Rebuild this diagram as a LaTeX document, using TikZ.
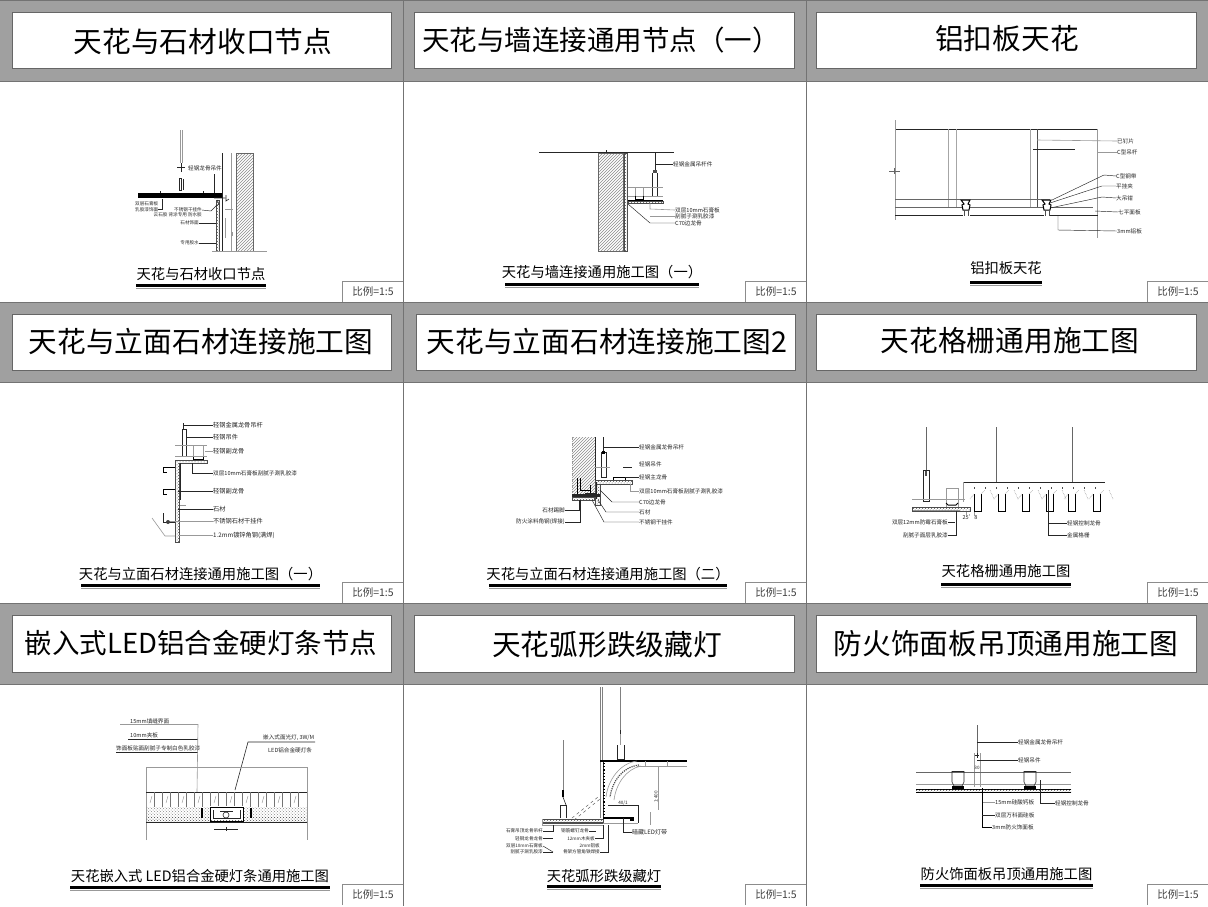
\documentclass[tikz,border=0pt]{standalone}
\usepackage{fontspec}
\setmainfont{Noto Sans CJK SC}
\usetikzlibrary{patterns}
\definecolor{bandgray}{HTML}{A0A0A0}
\tikzset{
  titlebox/.style={draw=black!60,fill=white,line width=0.7pt},
  titletext/.style={inner sep=0pt},
  capttext/.style={font=\fontsize{14.3}{15}\selectfont,inner sep=0pt},
  scaletext/.style={font=\fontsize{10.5}{12}\selectfont,text=black!75,inner sep=0pt},
  lbl/.style={font=\fontsize{5.6}{6}\selectfont,text=black!85,inner sep=0pt},
  lblsmall/.style={font=\fontsize{4.6}{5}\selectfont,text=black!85,inner sep=0pt},
  lblbig/.style={font=\fontsize{6.2}{7}\selectfont,text=black!85,inner sep=0pt},
  lead/.style={black!85,line width=0.45pt},
  lite/.style={black!40,line width=0.6pt},
  dark/.style={black!85,line width=0.6pt},
  wallhatch/.style={draw=black!60,line width=0.4pt,pattern=north east lines,pattern color=black!45},
  boarddot/.style={draw=black!70,line width=0.4pt,pattern=crosshatch dots,pattern color=black!65},
}
\begin{document}
\begin{tikzpicture}[x=1pt,y=-1pt]
  \useasboundingbox (0,0) rectangle (1208,906);
  \fill[white] (0,0) rectangle (1208,906);

  % Header bands and cell lines
  \foreach \ya/\yb in {0/81,302/382,603/684}
    \fill[bandgray] (0,\ya) rectangle (1208,\yb);
  \foreach \ya in {0,81,302,382,603,684}
    \draw[black!55,line width=0.5pt] (0,\ya) -- (1208,\ya);
  \draw[black!55,line width=0.5pt] (403,0) -- (403,906);
  \draw[black!55,line width=0.5pt] (806,0) -- (806,906);

  % Title boxes
  \foreach \n/\xa/\xb/\ya/\yb/\tx/\ty/\fs/\ttl in {
    a/12/391/12/68/203/42/28.7/天花与石材收口节点,
    b/414/794/12/68/601/40/27.5/天花与墙连接通用节点（一）,
    c/816/1196/12/68/1007/39/28.7/铝扣板天花,
    d/12/391/314/370/201/342/28.7/天花与立面石材连接施工图,
    e/416/795/314/370/607/342/28.7/天花与立面石材连接施工图2,
    f/816/1196/314/370/1010/341/28.7/天花格栅通用施工图,
    g/12/391/615/672/201/643/27.5/嵌入式LED铝合金硬灯条节点,
    h/414/794/615/672/607/645/28.7/天花弧形跌级藏灯,
    i/816/1196/615/672/1006/644/28.7/防火饰面板吊顶通用施工图}{
    \draw[titlebox] (\xa,\ya) rectangle (\xb,\yb);
    \node[titletext,font=\fontsize{\fs}{30}\selectfont] (title\n) at (\tx,\ty) {\ttl};
  }

  % Captions with their double rule
  \foreach \n/\xa/\xb/\ty/\uy/\ttl in {
    a/136/266/274/285/天花与石材收口节点,
    b/505/699/272/284/天花与墙连接通用施工图（一）,
    c/970/1042/268/282/铝扣板天花,
    d/81/320/574/585/天花与立面石材连接通用施工图（一）,
    e/489/727/574/585/天花与立面石材连接通用施工图（二）,
    f/941/1071/571/584/天花格栅通用施工图,
    g/70/330/876/887/天花嵌入式 LED铝合金硬灯条通用施工图,
    h/547/661/876/886/天花弧形跌级藏灯,
    i/920/1093/874/885/防火饰面板吊顶通用施工图}{
    \node[capttext] (capt\n) at ({(\xa+\xb)/2},\ty) {\ttl};
    \fill[black] (\xa,\uy-1.5) rectangle (\xb,\uy+1.5);
    \draw[black!40,line width=0.5pt] (\xa,\uy+3.5) -- (\xb,\uy+3.5);
  }

  % Scale tags
  \foreach \n/\xa/\ya in {a/342/281,b/745/281,c/1147/281,d/342/582,e/745/582,f/1147/582,g/342/884,h/745/884,i/1147/884}{
    \draw[black!45,fill=white,line width=0.5pt] (\xa,\ya+21) -- (\xa,\ya) -- (\xa+61,\ya);
    \node[scaletext] (scale\n) at (\xa+31,\ya+11) {比例=1:5};
  }

  % ---- Panel 1
  \draw[lite] (180,130) -- (180,163);
  \draw[lite] (182,130) -- (182,163);
  \draw[dark] (177,167) -- (185,167) (181,163) -- (181,172);
  \draw[dark] (179,178) rectangle (181,190);
  \draw[dark] (183,179) -- (183,190);
  \fill[black] (138,193) rectangle (222,198);
  \foreach \xp in {160,203} \draw[dark] (\xp,191) -- (\xp,193);
  \draw[dark] (214,174) -- (214,193);
  \draw[dark] (222,153) -- (222,251);
  \draw[lite] (231,153) -- (231,251);
  \draw[wallhatch] (236,153) rectangle (253,251);
  \draw[boarddot] (216,200) rectangle (219,251);
  \draw[lite] (212,251) -- (267,251);
  \draw[dark] (214,198) -- (225,198) (226,195) -- (226,201) -- (229,199);
  \draw[lite] (225,209) -- (233,209) (225,238) -- (225,218) (232,232) -- (232,236);
  \draw[dark] (217,200) -- (219,204) -- (216,206);
  \node[lbl,anchor=west] (p1a) at (188,168) {轻钢龙骨吊件};
  \node[lblsmall,anchor=west] (p1b) at (135,204) {双层石膏板};
  \node[lblsmall,anchor=west] (p1c) at (135,209.5) {乳胶漆饰面};
  \node[lblsmall,anchor=east] (p1d) at (202,210) {不锈钢干挂件};
  \node[lblsmall,anchor=east] (p1e) at (202,215) {云石胶 背涂专用 防水胶};
  \node[lblsmall,anchor=east] (p1f) at (199,223) {石材饰面};
  \node[lblsmall,anchor=east] (p1g) at (199,243) {专用胶水};
  \draw[lead] (p1c.east) -- (162,209.5) -- (162,199);
  \draw[lead] (p1d.east) -- (211,211) -- (217,205);
  \draw[lead] (p1f.east) -- (216,223);
  \draw[lead] (p1g.east) -- (216,243);

  % ---- Panel 2
  \draw[dark] (539,152) -- (674,152);
  \draw[wallhatch] (598,153) rectangle (623,251);
  \draw[boarddot] (624,153) rectangle (627,251);
  \draw[dark] (655,153) -- (655,170);
  \fill[black!70] (653,170) rectangle (657,173);
  \draw[dark] (652,173) -- (652,197) (657,173) -- (657,197);
  \draw[lite] (628,187) -- (663,187) (628,196) -- (663,196);
  \draw[lite] (635,187) -- (635,196) (643,187) -- (643,196);
  \draw[black,line width=1pt] (635,196) -- (635,199) -- (643,199) -- (643,196);
  \fill[black] (628,200) rectangle (663,201);
  \draw[boarddot] (628,201) rectangle (663,203.5);
  \node[lbl,anchor=west] (p2a) at (673,164) {轻钢金属吊杆件};
  \node[lbl,anchor=west] (p2b) at (675,210) {双层10mm石膏板};
  \node[lbl,anchor=west] (p2c) at (675,216) {刮腻子涮乳胶漆};
  \node[lbl,anchor=west] (p2d) at (675,223) {C70边龙骨};
  \draw[lead] (p2a.west) -- (655,164);
  \draw[lite] (p2b.west) -- (650,209) -- (650,203);
  \draw[lite] (p2c.west) -- (650,216);
  \draw[lead] (p2d.west) -- (650,223) -- (628,204);
  \draw[dark] (606,153) -- (606,150);

  % ---- Panel 3
  \draw[dark] (895,129) -- (1097,129);
  \draw[lite] (895,120) -- (895,220);
  \draw[lite] (1097,129) -- (1097,238);
  \draw[black!35,line width=0.7pt] (948,129) -- (948,207) (956,129) -- (956,207);
  \draw[black!35,line width=0.7pt] (1030,129) -- (1030,207);
  \draw[black!70,line width=0.7pt] (1037,129) -- (1037,207);
  \draw[black!60,line width=0.5pt] (895,199) -- (1050,199);
  \draw[black!60,line width=0.5pt] (895,207) -- (1093,207);
  \draw[black!85,line width=0.7pt] (895,215) -- (963,215) (970,215) -- (1044,215) (1050,215) -- (1098,215);
  \foreach \xp in {966,1047}{
    \draw[black,fill=white,line width=1pt] (\xp-3,210) -- (\xp-4,205) -- (\xp-2,204) -- (\xp-5,200) -- (\xp+4,200) -- (\xp+2,204) -- (\xp+4,205) -- (\xp+3,210) -- cycle;
    \draw[black!70,line width=0.5pt] (\xp-2,210) -- (\xp-2,216) (\xp+2,210) -- (\xp+2,216);
  }
  \draw[black!85,line width=0.6pt] (1033,149) -- (1075,149);
  \draw[black!60,line width=0.5pt] (889,171) -- (900,171) (894,168) -- (894,174);
  \node[lbl,anchor=west] (p3a) at (1117,141) {已钉片};
  \node[lbl,anchor=west] (p3b) at (1117,152) {C型吊杆};
  \node[lbl,anchor=west] (p3c) at (1116,176) {C型钢带};
  \node[lbl,anchor=west] (p3d) at (1116,186) {平挂夹};
  \node[lbl,anchor=west] (p3e) at (1116,198) {大吊钳};
  \node[lbl,anchor=west] (p3f) at (1118,212) {七平面板};
  \node[lbl,anchor=west] (p3g) at (1117,231) {3mm铝板};
  \draw[lite] (p3a.west) -- (1037,140);
  \draw[lite] (p3b.west) -- (1097,152);
  \draw[lead] (p3c.west) -- (1104,175) -- (1052,200);
  \draw[lead] (p3d.west) -- (1102,186) -- (1050,203);
  \draw[lead] (p3e.west) -- (1102,197) -- (1050,208);
  \draw[lead] (p3f.west) -- (1095,211);
  \draw[lead] (p3g.west) -- (1058,230) -- (1058,216);

  % ---- Panel 4
  \draw[black!85,line width=1pt] (183,423) -- (183,429);
  \draw[dark] (182,429) rectangle (186,456);
  \draw[lite] (175,445) -- (207,445) (175,456) -- (207,456);
  \draw[lite] (193,445) -- (193,456) (203,445) -- (203,456);
  \draw[black,line width=1pt] (193,457) -- (193,459) -- (203,459) -- (203,457);
  \draw[boarddot] (175,460) -- (207,460) -- (207,463) -- (179,463) -- (179,542) -- (175,542) -- cycle;
  \draw[black,line width=0.7pt] (163,472) -- (163,467) -- (175,467) (163,472) -- (167,472);
  \draw[black,line width=0.7pt] (163,494) -- (163,489) -- (175,489) (163,494) -- (167,494);
  \draw[dark] (180,463) -- (180,500);
  \draw[dark] (163,513) -- (163,522) -- (175,522);
  \fill[black!75] (168,522) circle (2);
  \draw[lite] (152,518) -- (165,536) -- (175,536);
  \draw[lite] (180,505) -- (186,505);
  \node[lblbig,anchor=west] (p4a) at (213,425) {轻钢金属龙骨吊杆};
  \node[lblbig,anchor=west] (p4b) at (213,437) {轻钢吊件};
  \node[lblbig,anchor=west] (p4c) at (213,451) {轻钢副龙骨};
  \node[lbl,anchor=west] (p4d) at (213,473) {双层10mm石膏板刮腻子涮乳胶漆};
  \node[lblbig,anchor=west] (p4e) at (213,491) {轻钢副龙骨};
  \node[lblbig,anchor=west] (p4f) at (213,509) {石材};
  \node[lblbig,anchor=west] (p4g) at (213,521) {不锈钢石材干挂件};
  \node[lblbig,anchor=west] (p4h) at (213,535) {1.2mm镀锌角钢(满焊)};
  \draw[lead] (p4a.west) -- (184,425);
  \draw[lead] (p4b.west) -- (186,437);
  \draw[lite] (p4c.west) -- (205,451);
  \draw[lead] (p4d.west) -- (192,473) -- (192,463);
  \draw[lead] (p4e.west) -- (178,491);
  \draw[lead] (p4f.west) -- (178,509);
  \draw[lite] (p4g.west) -- (170,521);
  \draw[lite] (p4h.west) -- (178,535);

  % ---- Panel 5
  \draw[wallhatch,draw=none] (572,437) rectangle (595,493);
  \draw[dark] (595,437) -- (595,480);
  \draw[lite,dashed] (572,437) -- (572,493);
  \draw[black!85,line width=1pt] (603,437) -- (603,452);
  \draw[dark] (601,452) rectangle (606,477);
  \fill[black] (602,451) rectangle (605,454);
  \draw[lite] (595,467) -- (610,467);
  \draw[dark] (623,467) -- (632,467);
  \draw[black,line width=0.8pt] (613,480) -- (613,477) -- (625,477) -- (625,480);
  \draw[boarddot] (595,480) rectangle (632,484);
  \draw[boarddot] (595,484) rectangle (600,505);
  \draw[black,line width=1pt] (577,478) -- (577,494) (580,478) -- (580,490) -- (590,490) (590,485) -- (590,495);
  \fill[black!85] (572,494) rectangle (600,497);
  \draw[boarddot] (572,497) rectangle (594,500);
  \draw[dark] (596,482) -- (596,499) (585,493) -- (596,493);
  \node[lbl,anchor=west] (p5a) at (639,447) {轻钢金属龙骨吊杆};
  \node[lbl,anchor=west] (p5b) at (639,464) {轻钢吊件};
  \node[lbl,anchor=west] (p5c) at (639,477) {轻钢主龙骨};
  \node[lbl,anchor=west] (p5d) at (639,491) {双层10mm石膏板刮腻子涮乳胶漆};
  \node[lbl,anchor=west] (p5e) at (639,502) {C70边龙骨};
  \node[lbl,anchor=west] (p5f) at (639,512) {石材};
  \node[lbl,anchor=west] (p5g) at (639,522) {不锈钢干挂件};
  \node[lbl,anchor=east] (p5h) at (565,510) {石材踢脚};
  \node[lbl,anchor=east] (p5i) at (565,522) {防火涂料角钢(焊接)};
  \draw[lead] (p5a.west) -- (604,447);
  \draw[lead] (p5c.west) -- (625,477);
  \draw[lite] (p5d.west) -- (630,491) -- (630,484);
  \draw[lead] (p5e.west) -- (612,502) -- (600,490);
  \draw[lead] (p5f.west) -- (606,512) -- (598,500);
  \draw[lead] (p5g.west) -- (604,522) -- (592,500);
  \draw[lead] (p5h.east) -- (579,510) -- (579,500);
  \draw[lead] (p5i.east) -- (580,522) -- (580,500);

  % ---- Panel 6
  \draw[black!60,line width=0.8pt] (926,427) -- (926,470);
  \draw[dark] (923,470) rectangle (929,501);
  \fill[black!70] (925,471) rectangle (927,476);
  \draw[black!60,line width=0.8pt] (996,427) -- (996,482);
  \draw[black!60,line width=0.8pt] (1072,427) -- (1072,482);
  \draw[black!85,line width=0.6pt] (963,482) -- (1105,482);
  \draw[lite] (963,482) -- (963,502);
  \draw[lite] (912,499) -- (965,499) (912,510) -- (960,510);
  \draw[lite] (946,507) -- (946,488) -- (958,488) -- (958,507);
  \draw[black,line width=1pt] (946,503) -- (948,505) -- (956,505) -- (958,503);
  \draw[boarddot] (912,507) rectangle (970,511);
  \foreach \xp in {974,998,1022,1046,1068,1093}
    \draw[black,line width=1pt] (\xp,494) -- (\xp,511) -- (\xp+7,511) -- (\xp+7,494);
  \foreach \xp in {974,985,...,1100}
    \draw[black!70,line width=0.5pt] (\xp,487) -- (\xp,489);
  \foreach \xp in {970,994,1018,1042,1064,1089}{
    \draw[black!50,line width=0.5pt,densely dotted] (\xp,499) -- (\xp+4,494) (\xp+11,494) -- (\xp+15,490) (\xp+24,499) -- (\xp+20,490);
  }
  \node[lbl,anchor=north] (p6a) at (970,515) {25'8};
  \draw[lite] (966,512) -- (966,516) (974,512) -- (974,516);
  \node[lbl,anchor=east] (p6b) at (948,522) {双层12mm防霉石膏板};
  \node[lbl,anchor=east] (p6c) at (948,535) {刮腻子面层乳胶漆};
  \node[lbl,anchor=west] (p6d) at (1067,523) {轻钢控制龙骨};
  \node[lbl,anchor=west] (p6e) at (1067,535) {金属格栅};
  \draw[lead] (p6b.east) -- (955,522);
  \draw[lead] (p6c.east) -- (956,535) -- (956,511);
  \draw[lead] (p6d.west) -- (1048,523);
  \draw[lead] (p6e.west) -- (1048,535) -- (1048,490);

  % ---- Panel 7
  \node[lbl,anchor=west] (p7a) at (130,721) {15mm填缝界面};
  \node[lbl,anchor=west] (p7b) at (130,735) {10mm夹板};
  \node[lbl,anchor=west] (p7c) at (116,748) {饰面板贴面刮腻子专制白色乳胶漆};
  \coordinate (p7up1) at (198,724);
  \coordinate (p7up2) at (198,739);
  \coordinate (p7up3) at (198,752);
  \draw[lite] (120,724) -- (p7up1);
  \draw[dark] (128,739) -- (p7up2);
  \draw[dark] (116,752) -- (p7up3);
  \draw[lite] (p7up1) -- (197,792);
  \node[lbl,anchor=west] (p7d) at (263,738) {嵌入式面光灯, 3W/M};
  \node[lbl,anchor=west] (p7e) at (268,750) {LED铝合金硬灯条};
  \draw[dark] (315,742) -- (248,742) -- (235,790);
  \draw[lite] (146,840) -- (146,767) -- (307,767) -- (307,840);
  \draw[dark] (146,792) -- (307,792);
  \foreach \xp in {154,162,...,300}
    \draw[black!55,line width=0.4pt] (\xp,792) -- (\xp,807);
  \foreach \xp in {150,166,...,300}
    \draw[black!45,line width=0.4pt] (\xp,803) -- (\xp+2,796);
  \fill[pattern=crosshatch dots,pattern color=black!45] (146,807) rectangle (210,817);
  \fill[pattern=crosshatch dots,pattern color=black!45] (243,807) rectangle (307,817);
  \fill[pattern=crosshatch dots,pattern color=black!70] (146,817) rectangle (307,822);
  \draw[dark] (146,822) -- (307,822);
  \fill[white] (210,806) rectangle (243,820);
  \draw[black,line width=1pt] (210,807) rectangle (243,821);
  \draw[dark] (213,810) -- (213,818) -- (240,818) -- (240,810);
  \draw[dark] (220,811) -- (233,811) (226,811) -- (226,812);
  \draw[dark] (226,815) circle (3);
  \fill[black] (201,808) rectangle (203,818);
  \fill[black] (250,808) rectangle (252,818);
  \draw[dark] (214,829) -- (238,829) (226,827) -- (226,831);

  % ---- Panel 8
  \draw[black!50,line width=0.5pt] (600,687) -- (600,818);
  \draw[black!50,line width=0.5pt] (602,687) -- (602,762);
  \draw[black!50,line width=0.5pt] (620.7,687) -- (620.7,730);
  \draw[black!85,line width=1.3pt] (620.7,730) -- (620.7,734);
  \draw[dark] (617,745) -- (617,759) -- (624,759) -- (624,745);
  \draw[lite] (620.7,734) -- (620.7,745);
  \draw[black,line width=1.4pt] (600,761) -- (687,761);
  \draw[lite] (637,766) -- (687,766);
  \draw[lite] (645,761) -- (645,766) (667,761) -- (667,766);
  \draw[black!85,line width=0.8pt] (603,762) -- (603,818);
  \draw[black,dotted,line width=1.2pt] (604,763) -- (604,817);
  \draw[lite] (637,761) .. controls (620,763) and (608,780) .. (606,797);
  \draw[black!70,densely dotted,line width=1.2pt] (639,765) .. controls (622,767) and (612,782) .. (610,797);
  \draw[lite] (641,766) .. controls (626,769) and (616,784) .. (614,800);
  \draw[black!50,line width=0.6pt] (563,740) -- (563,790);
  \fill[black] (562,790) rectangle (564,797);
  \draw[dark] (560,818) -- (560,805) -- (566,805) -- (566,818);
  \draw[dark] (563,797) -- (566,805);
  \draw[dark] (542,819) -- (600,819);
  \draw[boarddot] (542,819) rectangle (603,822);
  \fill[black!70] (542,822) rectangle (603,824);
  \draw[lite] (542,825) -- (603,825) (542,819) -- (542,825);
  \draw[black,line width=1.2pt] (603,818) -- (633,818);
  \draw[lite] (603,823) -- (638,823);
  \fill[black] (630,817) rectangle (634,821);
  \draw[black!60,dashed,line width=0.5pt] (572,818) -- (598,797) (574,820) -- (600,799);
  \draw[dark] (608,805) -- (638,805) -- (638,823);
  \draw[lite] (650,812) -- (650,825);
  \draw[lite] (658,767) -- (658,810);
  \node[lblsmall,rotate=90] (p8d) at (656,797) {1:400};
  \node[lblsmall] (p8e) at (623,803) {40/1};
  \node[lblsmall,anchor=east] (p8a) at (543,831) {石膏吊顶龙骨吊杆};
  \node[lblsmall,anchor=east] (p8b) at (543,838.5) {轻钢龙骨龙骨};
  \node[lblsmall,anchor=east] (p8c) at (543,846) {双层10mm石膏板};
  \node[lblsmall,anchor=east] (p8f) at (543,852) {刮腻子涮乳胶漆};
  \node[lblsmall,anchor=east] (p8g) at (589,831) {钢筋螺钉龙骨};
  \node[lblsmall,anchor=east] (p8h) at (595,838.5) {12mm木夹板};
  \node[lblsmall,anchor=east] (p8i) at (600,846) {2mm铝板};
  \node[lblsmall,anchor=east] (p8j) at (600,852) {骨架方管角铁焊接};
  \node[lbl,anchor=west,font=\fontsize{6}{7}\selectfont] (p8k) at (632,832) {暗藏LED灯带};
  \draw[lead] (p8a.east) -- (553,831) -- (553,825);
  \draw[lead] (p8b.east) -- (553,838.5);
  \draw[lead] (p8c.east) -- (553,852);
  \draw[lead] (p8f.east) -- (553,852);
  \draw[lead] (p8g.east) -- (596,831);
  \draw[lead] (p8h.east) -- (603,838.5) -- (603,825);
  \draw[lead] (p8j.east) -- (608,852) -- (608,825);
  \draw[lead] (p8k.west) -- (623,832) -- (623,818);

  % ---- Panel 9
  \draw[black!60,line width=0.5pt] (977,725) -- (977,753);
  \draw[lite] (974,753) -- (974,787) (980,753) -- (980,787);
  \draw[dark] (975,755) -- (979,755) (977,753) -- (977,758);
  \draw[black!60,line width=0.6pt] (916,772) -- (1071,772);
  \draw[lite] (916,784) -- (1071,784);
  \foreach \xp in {952,1024}{
    \draw[dark] (\xp,771) -- (\xp,782) -- (\xp+2,786) -- (\xp+10,786) -- (\xp+12,782) -- (\xp+12,771);
    \draw[dark] (\xp,771) -- (\xp+12,771);
    \fill[black] (\xp,786) rectangle (\xp+12,789);
  }
  \draw[black,line width=0.6pt] (916,789) -- (1071,789);
  \draw[boarddot,draw=none] (916,789) rectangle (1071,792);
  \draw[black,line width=0.6pt] (916,792) -- (1071,792);
  \node[lblsmall] (p9g) at (977,768) {30};
  \node[lbl,anchor=west] (p9a) at (1018,742) {轻钢金属龙骨吊杆};
  \node[lbl,anchor=west] (p9b) at (1018,760) {轻钢吊件};
  \node[lbl,anchor=west] (p9c) at (1055,803) {轻钢控制龙骨};
  \node[lbl,anchor=west] (p9d) at (995,802) {15mm硅酸钙板};
  \node[lbl,anchor=west] (p9e) at (995,815) {双层万科面硅板};
  \node[lbl,anchor=west] (p9f) at (992,827) {3mm防火饰面板};
  \draw[lead] (p9a.west) -- (977,742);
  \draw[lead] (p9b.west) -- (977,760);
  \draw[lead] (p9c.west) -- (1040,803) -- (1040,780);
  \draw[lite] (p9d.west) -- (982,802);
  \draw[black,line width=0.8pt] (p9f.west) -- (982,827) -- (982,788);
  \draw[lead] (p9e.west) -- (982,815);
\end{tikzpicture}
\end{document}
